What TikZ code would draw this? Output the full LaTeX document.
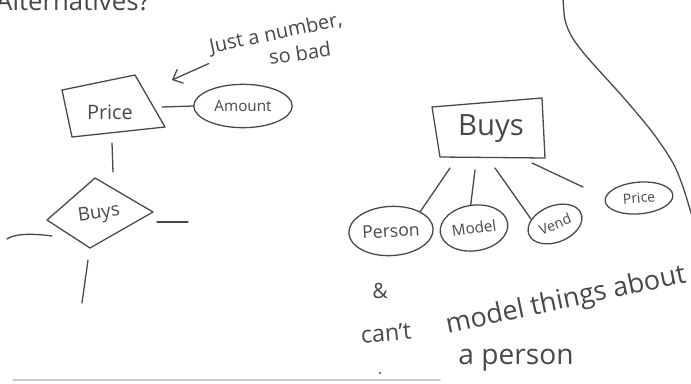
\documentclass[tikz,border=0pt]{standalone}
\usepackage{fontspec}
\setmainfont{Open Sans}
\usetikzlibrary{shapes.geometric,arrows.meta}

\definecolor{ink}{RGB}{72,72,72}
\newcommand*{\fsz}[1]{\fontsize{#1}{#1}\selectfont}

\begin{document}
\begin{tikzpicture}[x=0.03cm,y=-0.03cm,line cap=round,line join=round]

\tikzset{%
    pen/.style={draw=ink,line width=1.1pt},
    attr/.style={ellipse,draw=ink,line width=1.1pt,inner sep=0pt,text=ink},
    note/.style={text=ink,inner sep=0pt},
}

\useasboundingbox (0,0) rectangle (691,383);

% heading, cut off at the top
\node [note,anchor=base west,font=\fsz{22}] (alt) at (-4,10) {Alternatives?};

% left: Price entity with its one attribute
\coordinate (P1) at (62,90);
\coordinate (P2) at (135,75);
\coordinate (P3) at (165,127);
\coordinate (P4) at (72,137);
\draw [pen] (P1) -- (P2) -- (P3) -- (P4) -- cycle;
\node [note,font=\fsz{17}] (price) at (110,112) {Price};

\node [attr,font=\fsz{13},minimum width=84pt,minimum height=37pt] (amount) at (243,106) {Amount};
\draw [pen] (162,107) coordinate (pe) -- (amount.west);

% remark with arrow
\node [note,font=\fsz{17},rotate=12] (just) at (276,34) {Just a number,};
\node [note,font=\fsz{17},rotate=8] (sobad) at (300,53) {so bad};
\coordinate (tip) at (172,80);
\draw [pen,-{Straight Barb[length=7pt,width=13pt]}] (just.south west) ++(-3,6) -- (tip);

% Buys relationship below
\coordinate (D1) at (47,220);
\coordinate (D2) at (95,178);
\coordinate (D3) at (153,212);
\coordinate (D4) at (90,248);
\draw [pen] (D1) -- (D2) -- (D3) -- (D4) -- cycle;
\node [note,font=\fsz{16},rotate=8] (buysL) at (99,214) {Buys};

\draw [pen] (112,143) -- (113,172);
\draw [pen] (7,239) .. controls (14,234) and (30,233) .. (52,236);
\draw [pen] (157,222) -- (188,222);
\draw [pen] (88,260) -- (82,303);

% right: Buys entity with attributes
\coordinate (B1) at (432,107);
\coordinate (B2) at (542,98);
\coordinate (B3) at (545,158);
\coordinate (B4) at (440,157);
\draw [pen] (B1) -- (B2) -- (B3) -- (B4) -- cycle;
\node [note,font=\fsz{25}] (buysR) at (491,129) {Buys};

\node [attr,font=\fsz{15},minimum width=72pt,minimum height=42pt,rotate=3] (person) at (391,231) {Person};
\node [attr,font=\fsz{13},minimum width=58pt,minimum height=39pt,rotate=8] (model) at (474,228) {Model};
\node [attr,font=\fsz{12},minimum width=48pt,minimum height=31pt,rotate=22] (vend) at (555,224) {Vend};
\node [attr,font=\fsz{12},minimum width=58pt,minimum height=27pt,rotate=5] (priceR) at (639,198) {Price};

\draw [pen] (450,168) -- (person.north east);
\draw [pen] (475,170) -- (model.north);
\draw [pen] (495,168) -- (vend.north west);
\draw [pen] (532,163) -- (583,187) coordinate (loose);

% note underneath
\node [note,font=\fsz{18}] (amp) at (380,291) {\&};
\node [note,font=\fsz{20},rotate=5] (cant) at (386,333) {can't};
\node [note,font=\fsz{23},rotate=12] (things) at (566,301) {model things about};
\node [note,font=\fsz{24}] (aperson) at (516,360) {a person};
\fill [ink] (380,373) circle (1.2);

% page edge and divider
\draw [gray!40,line width=1.5pt] (13,380) -- (440,380);
\draw [pen] plot [smooth] coordinates {(563,-2) (565,20) (572,37) (587,57) (623,97) (653,133) (673,163) (683,187) (692,216)};

\end{tikzpicture}
\end{document}
